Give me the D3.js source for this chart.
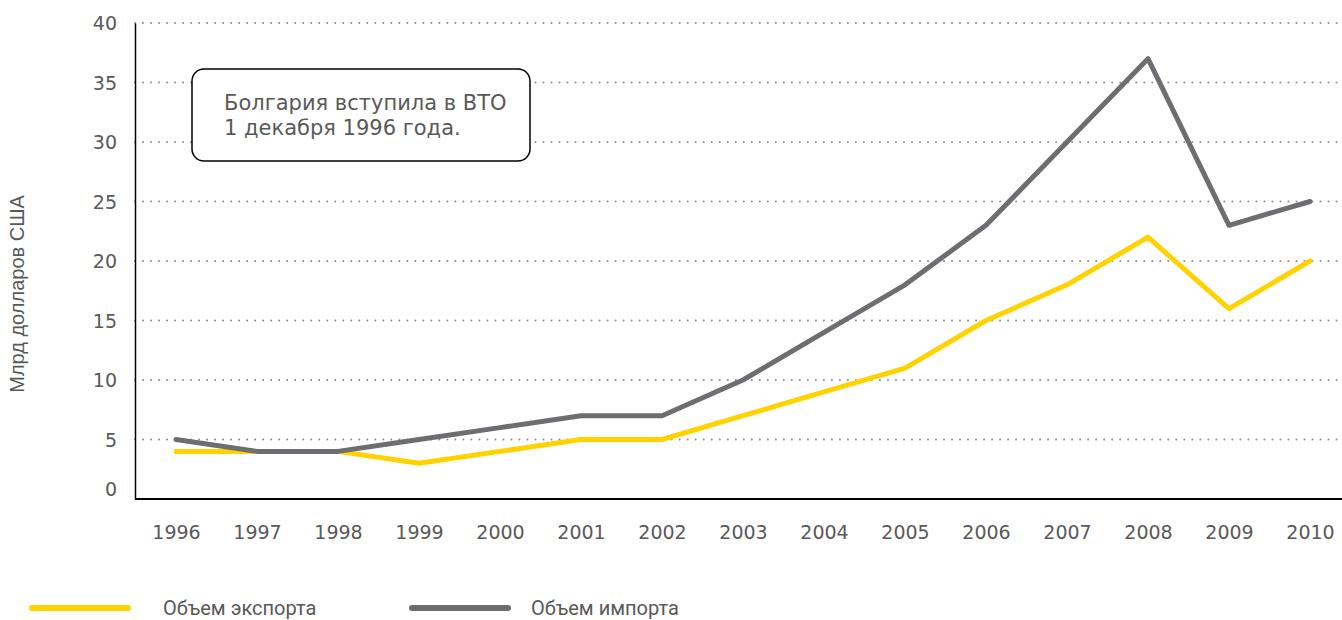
<!DOCTYPE html>
<html>
<head>
<meta charset="utf-8">
<script src="https://cdn.jsdelivr.net/npm/d3@7"></script>
<style>
  body { margin: 0; background: #fff; }
</style>
</head>
<body>
<div id="chart"></div>
<script>
// data
var years = ["1996", "1997", "1998", "1999", "2000", "2001", "2002", "2003",
             "2004", "2005", "2006", "2007", "2008", "2009", "2010"];
var exportVals = [4, 4, 4, 3, 4, 5, 5, 7, 9, 11, 15, 18, 22, 16, 20];
var importVals = [5, 4, 4, 5, 6, 7, 7, 10, 14, 18, 23, 30, 37, 23, 25];
var yTicks = [0, 5, 10, 15, 20, 25, 30, 35, 40];
var seriesNames = ["Объем экспорта", "Объем импорта"];
var noteLines = ["Болгария вступила в ВТО", "1 декабря 1996 года."];

function main() {
    var W = 1342, H = 620;
    var margin = {top: 23, right: 0, bottom: 121, left: 135},
        width = W - margin.left - margin.right,
        height = H - margin.top - margin.bottom;

    var svg = d3.select("#chart").append("svg")
        .attr("width", W)
        .attr("height", H);

    var g = svg.append("g")
        .attr("transform", "translate(" + margin.left + "," + margin.top + ")");

    var x = d3.scalePoint()
        .domain(years)
        .range([41, 1175]);

    var y = d3.scaleLinear()
        .domain([0, 40])
        .range([height, 0]);

    // dotted grid
    g.append("g")
        .selectAll("line")
        .data(yTicks.filter(function (d) { return d > 0; }))
        .join("line")
        .attr("x1", 0)
        .attr("x2", width)
        .attr("y1", function (d) { return y(d); })
        .attr("y2", function (d) { return y(d); })
        .attr("stroke", "#8c8c8c")
        .attr("stroke-width", 2)
        .attr("stroke-dasharray", "0.01 8")
        .attr("stroke-linecap", "round");

    var tickFont = "DejaVu Sans, Verdana, sans-serif";

    // y axis
    var yAxis = g.append("g")
        .call(d3.axisLeft(y).tickValues(yTicks).tickSize(0).tickPadding(18));
    yAxis.select(".domain").attr("stroke", "#000").attr("stroke-width", 1.5);
    yAxis.selectAll("text")
        .attr("font-family", tickFont)
        .attr("font-size", "19px")
        .attr("fill", "#595959")
        .attr("dy", function (d) { return d === 0 ? "-0.2em" : "0.35em"; });

    // x axis
    var xAxis = g.append("g")
        .attr("transform", "translate(0," + height + ")")
        .call(d3.axisBottom(x).tickSize(0).tickPadding(27));
    xAxis.select(".domain").attr("d", "M0,0H" + width).attr("stroke", "#000").attr("stroke-width", 2);
    xAxis.selectAll("text")
        .attr("font-family", tickFont)
        .attr("font-size", "19px")
        .attr("fill", "#595959");

    // y axis title
    svg.append("text")
        .attr("transform", "translate(24,294) rotate(-90)")
        .attr("text-anchor", "middle")
        .attr("font-family", "Liberation Sans, Arial, sans-serif")
        .attr("font-size", "20px")
        .attr("fill", "#595959")
        .text("Млрд долларов США");

    var line = d3.line()
        .x(function (d, i) { return x(years[i]); })
        .y(function (d) { return y(d); });

    g.append("path")
        .datum(exportVals)
        .attr("d", line)
        .attr("fill", "none")
        .attr("stroke", "#ffd200")
        .attr("stroke-width", 5)
        .attr("stroke-linejoin", "round")
        .attr("stroke-linecap", "round");

    g.append("path")
        .datum(importVals)
        .attr("d", line)
        .attr("fill", "none")
        .attr("stroke", "#6d6e71")
        .attr("stroke-width", 5)
        .attr("stroke-linejoin", "round")
        .attr("stroke-linecap", "round");

    // note box
    var note = svg.append("g").attr("transform", "translate(192,69)");
    note.append("rect")
        .attr("width", 338)
        .attr("height", 92)
        .attr("rx", 12)
        .attr("fill", "#fff")
        .attr("stroke", "#000")
        .attr("stroke-width", 1.5);
    note.selectAll("text")
        .data(noteLines)
        .join("text")
        .attr("x", 32)
        .attr("y", function (d, i) { return 41 + i * 25; })
        .attr("font-family", tickFont)
        .attr("font-size", "21px")
        .attr("fill", "#595959")
        .text(function (d) { return d; });

    // legend
    var colors = ["#ffd200", "#6d6e71"];
    var legend = svg.append("g")
        .selectAll("g")
        .data(seriesNames)
        .join("g")
        .attr("transform", function (d, i) { return "translate(" + (32 + i * 380) + ",608)"; });
    legend.append("line")
        .attr("x1", 0)
        .attr("x2", 96)
        .attr("stroke", function (d, i) { return colors[i]; })
        .attr("stroke-width", 6)
        .attr("stroke-linecap", "round");
    legend.append("text")
        .attr("x", function (d, i) { return i === 0 ? 131 : 119; })
        .attr("dy", "0.35em")
        .attr("font-family", "Roboto, sans-serif")
        .attr("font-size", "20px")
        .attr("fill", "#595959")
        .text(function (d) { return d; });
}

main();
</script>
</body>
</html>
